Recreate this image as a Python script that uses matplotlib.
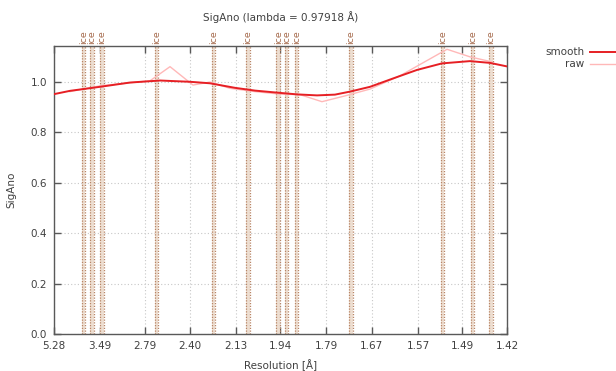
import numpy as np
import matplotlib
matplotlib.use("Agg")
import matplotlib.pyplot as plt
from matplotlib.ticker import FixedLocator, FuncFormatter

# x positions are stored as 1/d^2 (Å^-2)
smooth_s = [0.0359, 0.0521, 0.0826, 0.1131, 0.1435, 0.1740, 0.1943, 0.2197, 0.2400,
            0.2623, 0.2826, 0.3030, 0.3212, 0.3365, 0.3568, 0.3801, 0.4045, 0.4299,
            0.4583, 0.4786, 0.4959]
smooth_v = [0.952, 0.965, 0.981, 0.998, 1.006, 1.001, 0.995, 0.977, 0.966,
            0.958, 0.951, 0.947, 0.950, 0.962, 0.981, 1.014, 1.048, 1.074,
            1.083, 1.076, 1.062]

raw_s = [0.0521, 0.0826, 0.1080, 0.1334, 0.1537, 0.1770, 0.1943, 0.2146, 0.2400,
         0.2654, 0.2857, 0.3080, 0.3314, 0.3568, 0.3873, 0.4350, 0.4583, 0.4806]
raw_v = [0.962, 0.985, 0.995, 1.005, 1.061, 0.988, 1.000, 0.975, 0.962,
         0.952, 0.950, 0.922, 0.945, 0.972, 1.025, 1.130, 1.100, 1.080]

tick_res = [5.28, 3.49, 2.79, 2.40, 2.13, 1.94, 1.79, 1.67, 1.57, 1.49, 1.42]
ice_res = [3.897, 3.669, 3.441, 2.671, 2.249, 2.072, 1.948, 1.918, 1.883,
           1.721, 1.524, 1.473, 1.444]
ice_halfwidth_s = 0.0018

title = "SigAno (lambda = 0.97918 Å)"

plt.rcParams['font.family'] = ['DejaVu Sans']
fig = plt.figure(figsize=(6.16, 3.71), dpi=100)
ax = fig.add_axes([54/616, 1-334/371, (507-54)/616, (334-46)/371])

s_of = lambda d: 1.0/np.asarray(d)**2
xmin, xmax = s_of(tick_res[0]), s_of(tick_res[-1])

band_fill = (0.93, 0.87, 0.82)
band_line = (0.72, 0.52, 0.40)
for d in ice_res:
    c = s_of(d)
    lo, hi = c - ice_halfwidth_s, c + ice_halfwidth_s
    ax.axvspan(lo, hi, color=band_fill, lw=0, zorder=1)
    ax.axvline(lo, color=band_line, lw=0.9, ls=(0, (1, 1.2)), zorder=1.5)
    ax.axvline(hi, color=band_line, lw=0.9, ls=(0, (1, 1.2)), zorder=1.5)
    ax.text(c, 1.006, "ice", transform=ax.get_xaxis_transform(), rotation=90,
            ha='center', va='bottom', fontsize=6.8, color=(0.65, 0.42, 0.30))

ax.plot(smooth_s, smooth_v, color=(0.90, 0.12, 0.14), lw=1.4, zorder=4, label='smooth')
ax.plot(raw_s, raw_v, color=(1.0, 0.72, 0.72), lw=1.0, zorder=3, label='raw')

ax.set_xlim(xmin, xmax)
ax.set_ylim(0, 1.143)
ax.xaxis.set_major_locator(FixedLocator(s_of(tick_res)))
ax.xaxis.set_major_formatter(FuncFormatter(lambda v, p: f"{1/np.sqrt(v):.2f}"))
ax.set_yticks([0.0, 0.2, 0.4, 0.6, 0.8, 1.0])
ax.yaxis.set_major_formatter(FuncFormatter(lambda v, p: f"{v:.1f}"))

ax.grid(True, color=(0.78, 0.78, 0.78), ls=(0, (1, 2)), lw=0.8, zorder=0)
ax.set_axisbelow(True)
ax.tick_params(direction='in', top=True, right=True, length=5, width=1,
               colors=(0.35, 0.35, 0.35), labelsize=7.5, labelcolor=(0.25, 0.25, 0.25), pad=5)
for sp in ax.spines.values():
    sp.set_color((0.35, 0.35, 0.35))
    sp.set_linewidth(1)

ax.set_xlabel("Resolution [Å]", fontsize=7.5, color=(0.25, 0.25, 0.25), labelpad=6)
ax.set_ylabel("SigAno", fontsize=7.5, color=(0.25, 0.25, 0.25), labelpad=10)
ax.set_title(title, fontsize=7.5, color=(0.25, 0.25, 0.25), pad=18)

leg = fig.legend(loc='upper left', bbox_to_anchor=(541/616, 1-43/371), frameon=False,
                 markerfirst=False, fontsize=7.5, handlelength=3.2, handletextpad=0.5,
                 labelspacing=0.2, borderaxespad=0)
for t in leg.get_texts():
    t.set_color((0.25, 0.25, 0.25))

fig.savefig("out.png", dpi=100)
